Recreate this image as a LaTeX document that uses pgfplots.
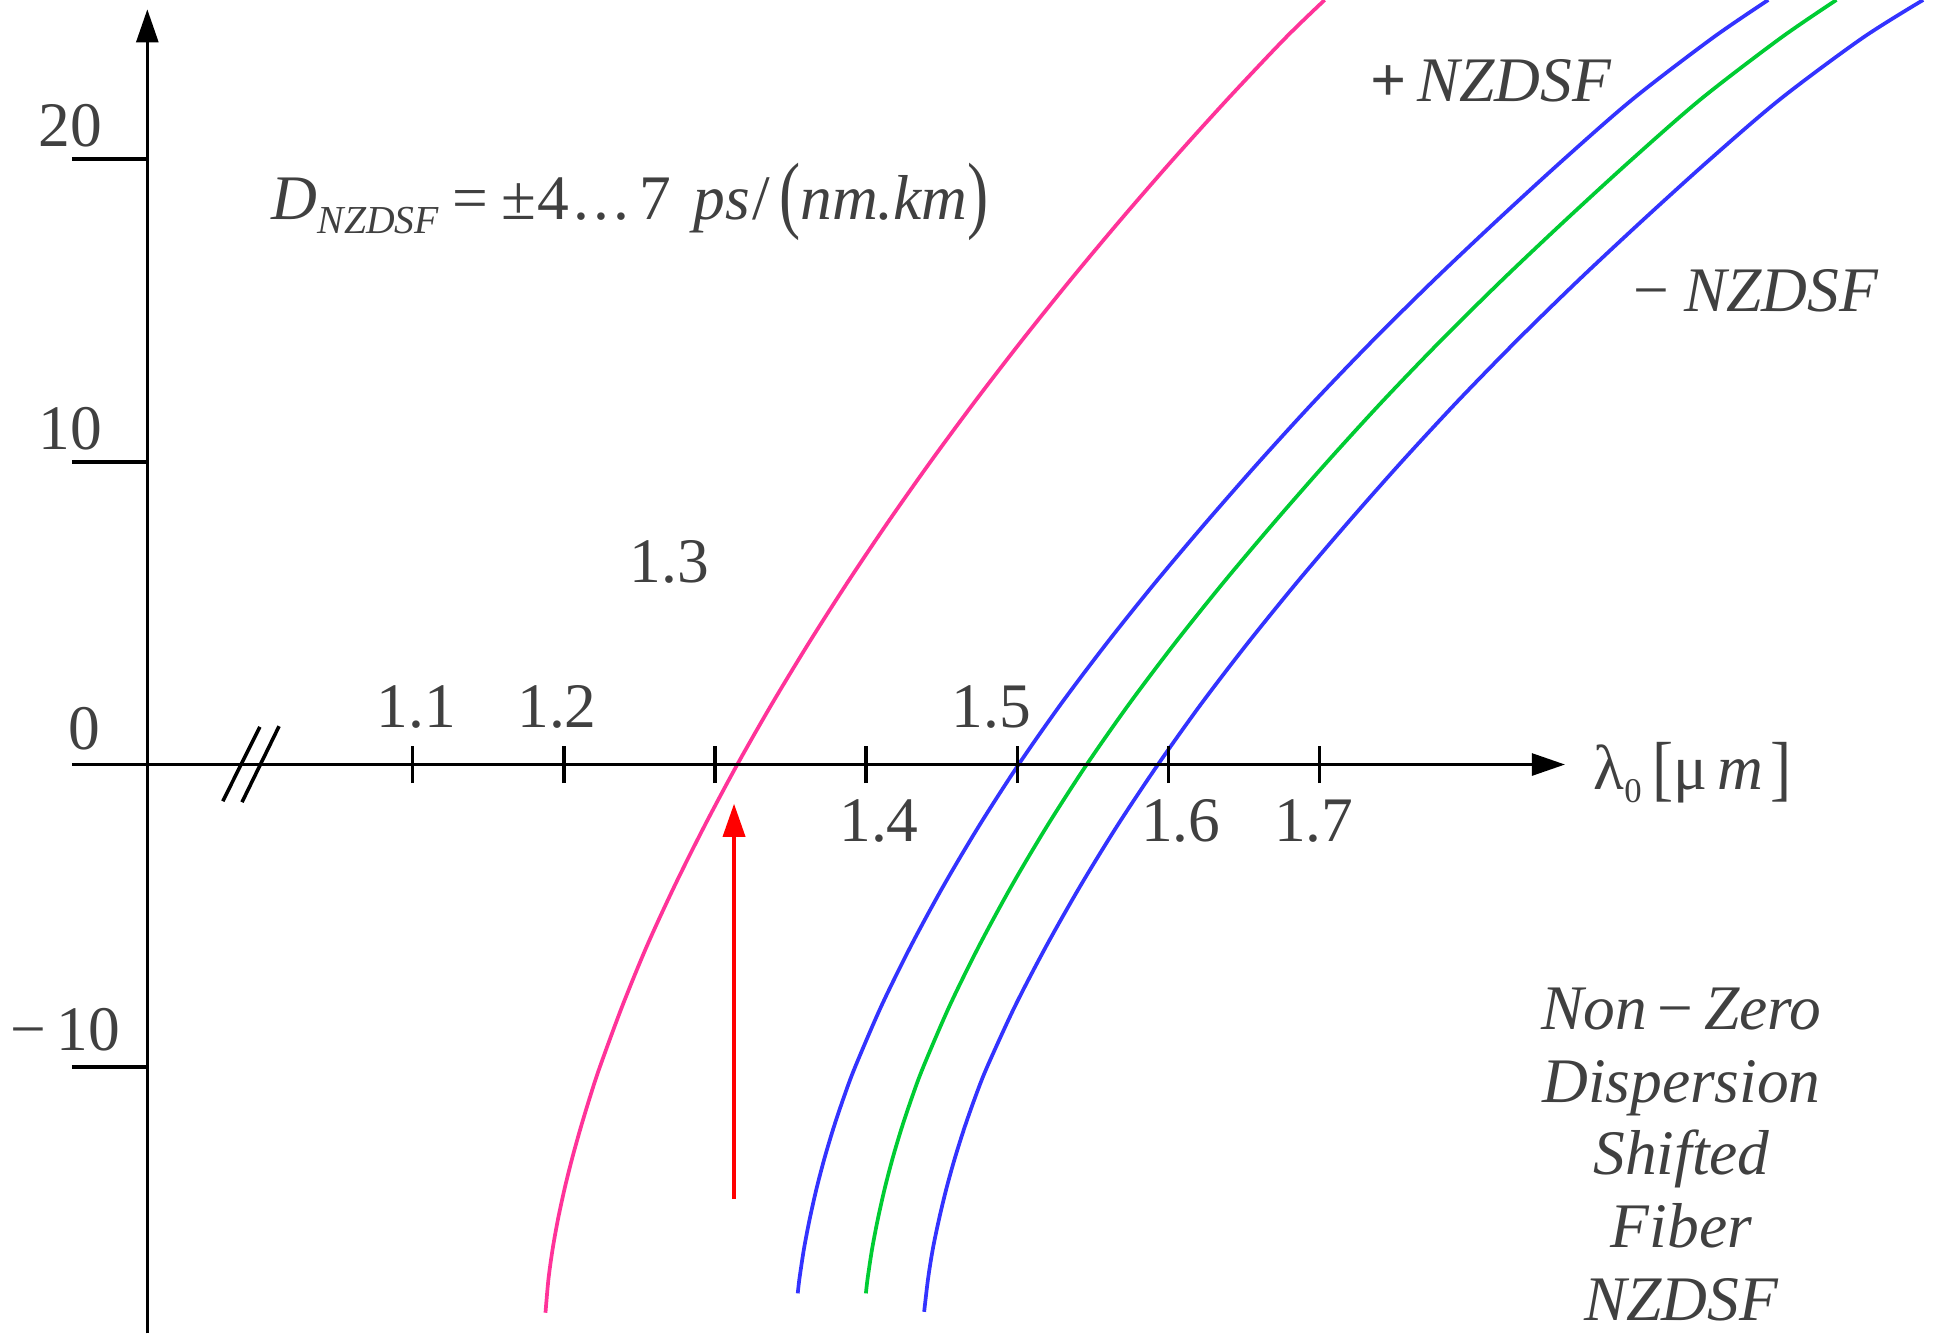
\documentclass[border=0pt]{standalone}
\usepackage{pgfplots}
\pgfplotsset{compat=1.18}
\usepackage{fontspec}
\setmainfont{Liberation Serif}
\usetikzlibrary{arrows.meta}

\definecolor{txt}{RGB}{64,64,64}
\definecolor{smf}{RGB}{255,51,153}
\definecolor{nzb}{RGB}{51,51,255}
\definecolor{nzg}{RGB}{0,204,51}

\tikzset{
  lbl/.style={anchor=base, text=txt, inner sep=0pt, font=\fontsize{12.8}{15.4}\selectfont},
  axline/.style={line width=0.72pt, black},
  tip/.style={-{Triangle[length=6.7pt,width=4.4pt]}},
}

\begin{document}
\begin{tikzpicture}
\begin{axis}[
  scale only axis, width=392pt, height=269pt,
  xmin=0.82705, xmax=2.11230, ymin=-18.789, ymax=25.256,
  hide axis, clip=false,
  every axis plot/.append style={line width=0.75pt, smooth, no markers},
]
\coordinate (bl) at (rel axis cs:0,0);
\coordinate (tr) at (rel axis cs:1,1);

% dispersion curves D(lambda): standard fibre
\addplot[smf] coordinates {
  (1.18787,-18.11) (1.18984,-17) (1.19262,-16) (1.19623,-15) (1.20057,-14)
  (1.20557,-13) (1.21115,-12) (1.21721,-11) (1.22377,-10) (1.23852,-8)
  (1.25492,-6) (1.27336,-4) (1.29336,-2) (1.31475,0) (1.33762,2)
  (1.36189,4) (1.38746,6) (1.41434,8) (1.44254,10) (1.47205,12)
  (1.50287,14) (1.53500,16) (1.56844,18) (1.60320,20) (1.63943,22)
  (1.67730,24) (1.70328,25.256)};
% +NZDSF
\addplot[nzb] coordinates {
  (1.35475,-17.47) (1.35582,-17) (1.35885,-16) (1.36270,-15) (1.36721,-14)
  (1.37246,-13) (1.37844,-12) (1.38516,-11) (1.39262,-10) (1.40984,-8)
  (1.42951,-6) (1.45123,-4) (1.47500,-2) (1.50082,0) (1.52885,2)
  (1.55902,4) (1.59107,6) (1.62484,8) (1.65992,10) (1.69648,12)
  (1.73500,14) (1.77549,16) (1.81787,18) (1.86164,20) (1.90754,22)
  (1.95984,24) (1.99672,25.256)};
% dispersion-shifted
\addplot[nzg] coordinates {
  (1.39984,-17.47) (1.40090,-17) (1.40393,-16) (1.40779,-15) (1.41230,-14)
  (1.41754,-13) (1.42352,-12) (1.43025,-11) (1.43770,-10) (1.45492,-8)
  (1.47459,-6) (1.49631,-4) (1.52008,-2) (1.54590,0) (1.57393,2)
  (1.60410,4) (1.63615,6) (1.66992,8) (1.70500,10) (1.74156,12)
  (1.78008,14) (1.82057,16) (1.86295,18) (1.90672,20) (1.95262,22)
  (2.00492,24) (2.04180,25.256)};
% -NZDSF
\addplot[nzb] coordinates {
  (1.43836,-18.08) (1.44090,-17) (1.44410,-16) (1.44828,-15) (1.45311,-14)
  (1.45869,-13) (1.46500,-12) (1.47205,-11) (1.47992,-10) (1.49828,-8)
  (1.51910,-6) (1.54180,-4) (1.56639,-2) (1.59303,0) (1.62156,2)
  (1.65221,4) (1.68467,6) (1.71877,8) (1.75418,10) (1.79123,12)
  (1.83025,14) (1.87123,16) (1.91410,18) (1.95836,20) (2.00508,22)
  (2.05902,24) (2.09918,25.256)};

% axes
\draw[axline, tip] (axis cs:0.9245,-18.789) -- (axis cs:0.9245,24.95);
\draw[axline, tip] (axis cs:0.8746,0) -- (axis cs:1.8623,0);
\draw[axline] (axis cs:0.8746,20) -- (axis cs:0.9245,20);
\draw[axline] (axis cs:0.8746,10) -- (axis cs:0.9245,10);
\draw[axline] (axis cs:0.8746,-10) -- (axis cs:0.9245,-10);
\draw[axline] (axis cs:1.1,-0.614) -- (axis cs:1.1,0.614);
\draw[axline] (axis cs:1.2,-0.614) -- (axis cs:1.2,0.614);
\draw[axline] (axis cs:1.3,-0.614) -- (axis cs:1.3,0.614);
\draw[axline] (axis cs:1.4,-0.614) -- (axis cs:1.4,0.614);
\draw[axline] (axis cs:1.5,-0.614) -- (axis cs:1.5,0.614);
\draw[axline] (axis cs:1.6,-0.614) -- (axis cs:1.6,0.614);
\draw[axline] (axis cs:1.7,-0.614) -- (axis cs:1.7,0.614);
% axis break
\draw[axline] (axis cs:0.97443,-1.212) -- (axis cs:0.99893,1.244);
\draw[axline] (axis cs:0.98713,-1.244) -- (axis cs:1.01164,1.265);

% zero-dispersion wavelength marker
\draw[red, line width=0.85pt, tip] (axis cs:1.3126,-14.35) -- (axis cs:1.3126,-1.29);

% tick labels
\node[lbl] at (axis cs:0.87336,20.4) {20};
\node[lbl] at (axis cs:0.87336,10.4) {10};
\node[lbl] at (axis cs:0.88295,0.5) {0};
\node[lbl] at (axis cs:0.87008,-9.45) {−\,10};
\node[lbl] at (axis cs:1.1023,1.21) {1.1};
\node[lbl] at (axis cs:1.1955,1.21) {1.2};
\node[lbl] at (axis cs:1.2697,6.02) {1.3};
\node[lbl] at (axis cs:1.4085,-2.53) {1.4};
\node[lbl] at (axis cs:1.4828,1.21) {1.5};
\node[lbl] at (axis cs:1.6081,-2.55) {1.6};
\node[lbl] at (axis cs:1.6961,-2.55) {1.7};

% axis title
\node[lbl, anchor=base west] at (axis cs:1.8805,-0.84)
  {λ\raisebox{-2.6pt}{\fontsize{7}{8}\selectfont 0}\hspace{2.2pt}\raisebox{-0.6pt}{\scalebox{1}[1.14]{[}}μ\hspace{2pt}\textit{m}\hspace{1.4pt}\raisebox{-0.6pt}{\scalebox{1}[1.14]{]}}};

% annotations
\node[lbl, anchor=base west] at (axis cs:1.0063,17.99)
  {\textit{D}\raisebox{-2.7pt}{\fontsize{8}{9}\selectfont\textit{NZDSF}}\hspace{2.6pt}=\hspace{2.8pt}±\hspace{0.2pt}4\kern0.8pt.\kern0.9pt.\kern0.9pt.\kern2pt7\hspace{4.4pt}\textit{ps}\hspace{0.6pt}/\hspace{1.8pt}\raisebox{-0.5pt}{\scalebox{1}[1.35]{(}}\textit{nm.km}\raisebox{-0.5pt}{\scalebox{1}[1.35]{)}}};
\node[lbl, anchor=base west] at (axis cs:1.7328,21.9) {\textbf{+}\,\textit{NZDSF}};
\node[lbl, anchor=base west] at (axis cs:1.9070,14.96) {−\hspace{3pt}\textit{NZDSF}};

\node[lbl] at (axis cs:1.9393,-8.743) {\textit{Non}\,−\,\textit{Zero}};
\node[lbl] at (axis cs:1.9393,-11.150) {\textit{Dispersion}};
\node[lbl] at (axis cs:1.9393,-13.557) {\textit{Shifted}};
\node[lbl] at (axis cs:1.9393,-15.964) {\textit{Fiber}};
\node[lbl] at (axis cs:1.9393,-18.371) {\textit{NZDSF}};
\end{axis}
\pgfresetboundingbox
\path (bl) rectangle (tr);
\end{tikzpicture}
\end{document}
